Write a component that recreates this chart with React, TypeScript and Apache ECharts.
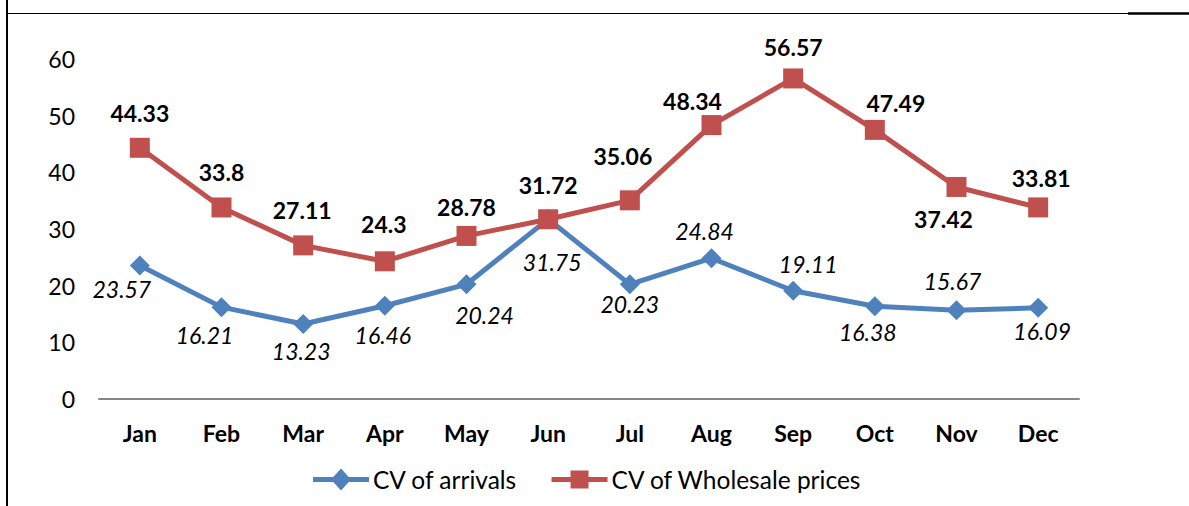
import React, { useEffect, useRef } from "react";
import * as echarts from "echarts";

const months = ["Jan", "Feb", "Mar", "Apr", "May", "Jun", "Jul", "Aug", "Sep", "Oct", "Nov", "Dec"];
const arrivals = [23.57, 16.21, 13.23, 16.46, 20.24, 31.75, 20.23, 24.84, 19.11, 16.38, 15.67, 16.09];
const prices = [44.33, 33.8, 27.11, 24.3, 28.78, 31.72, 35.06, 48.34, 56.57, 47.49, 37.42, 33.81];
const yTicks = [0, 10, 20, 30, 40, 50, 60];

// label offsets relative to the point (dx, dy) in px
const arrivalOffsets: [number, number][] = [
  [-18, 24], [-17, 28], [-2, 27], [-2, 29], [18, 31], [4, 43],
  [0, 20], [-7, -27], [15, -27], [-7, 26], [-4, -29], [4, 23],
];
const priceOffsets: [number, number][] = [
  [0, -35], [0, -35], [-1, -35], [-1, -37], [0, -29], [0, -34],
  [-7, -44], [-19, -24], [0, -31], [21, -27], [-13, 32], [3, -29],
];

const FONT = "Lato, 'Open Sans', sans-serif";

const ICON_DIAMOND =
  "path://M0,8.5 L20.3,8.5 L28,0 L35.7,8.5 L56,8.5 L56,13.5 L35.7,13.5 L28,22 L20.3,13.5 L0,13.5 Z";
const ICON_SQUARE =
  "path://M0,8.5 L19,8.5 L19,2 L37,2 L37,8.5 L56,8.5 L56,13.5 L37,13.5 L37,20 L19,20 L19,13.5 L0,13.5 Z";

export default function App() {
  const ref = useRef<HTMLDivElement>(null);
  useEffect(() => {
    if (!ref.current) return;
    const chart = echarts.init(ref.current, undefined, { renderer: "svg" });
    chart.setOption({
      animation: false,
      backgroundColor: "#ffffff",
      textStyle: { fontFamily: FONT },
      grid: { left: 99, right: 110, top: 59, bottom: 107, containLabel: false },
      legend: {
        bottom: 9,
        left: 308,
        itemWidth: 56,
        itemHeight: 22,
        itemGap: 34,
        textStyle: { fontSize: 24.5, color: "#000", fontFamily: FONT, padding: [0, 0, 0, -1] },
        data: [
          { name: "CV of arrivals", icon: ICON_DIAMOND, itemStyle: { color: "#4F81BD" } },
          { name: "CV of Wholesale prices", icon: ICON_SQUARE, itemStyle: { color: "#C0504D" } },
        ],
      },
      xAxis: {
        type: "category",
        data: months,
        boundaryGap: true,
        axisLine: { lineStyle: { color: "#868686", width: 2 } },
        axisTick: { show: false },
        axisLabel: { fontSize: 23, fontWeight: "bold", color: "#000", margin: 22, fontFamily: FONT },
        splitLine: { show: false },
      },
      yAxis: {
        type: "value",
        min: yTicks[0],
        max: yTicks[yTicks.length - 1],
        interval: 10,
        axisLine: { show: false },
        axisTick: { show: false },
        splitLine: { show: false },
        axisLabel: { fontSize: 23, color: "#000", margin: 24, fontFamily: FONT },
      },
      graphic: [
        { type: "line", shape: { x1: 7, y1: 0, x2: 7, y2: 506 }, style: { stroke: "#000", lineWidth: 2 } },
        { type: "line", shape: { x1: 6, y1: 13.5, x2: 1130, y2: 13.5 }, style: { stroke: "#000", lineWidth: 1 } },
        { type: "line", shape: { x1: 1128, y1: 13.5, x2: 1189, y2: 13.5 }, style: { stroke: "#000", lineWidth: 2.5 } },
      ],
      series: [
        {
          name: "CV of arrivals",
          type: "line",
          data: arrivals.map((v, i) => ({
            value: v,
            label: { offset: arrivalOffsets[i] },
          })),
          symbol: "diamond",
          symbolSize: [20, 20],
          lineStyle: { color: "#4F81BD", width: 5 },
          itemStyle: { color: "#4F81BD" },
          label: {
            show: true,
            position: "inside",
            fontSize: 23,
            fontStyle: "italic",
            color: "#000",
            fontFamily: FONT,
          },
          z: 2,
        },
        {
          name: "CV of Wholesale prices",
          type: "line",
          data: prices.map((v, i) => ({
            value: v,
            label: { offset: priceOffsets[i] },
          })),
          symbol: "rect",
          symbolSize: 20,
          lineStyle: { color: "#C0504D", width: 5 },
          itemStyle: { color: "#C0504D" },
          label: {
            show: true,
            position: "inside",
            fontSize: 23,
            fontWeight: "bold",
            color: "#000",
            fontFamily: FONT,
          },
          z: 3,
        },
      ],
    });
    return () => chart.dispose();
  }, []);
  return <div ref={ref} style={{ width: 1189, height: 506, position: "absolute", left: 0, top: 0 }} />;
}
